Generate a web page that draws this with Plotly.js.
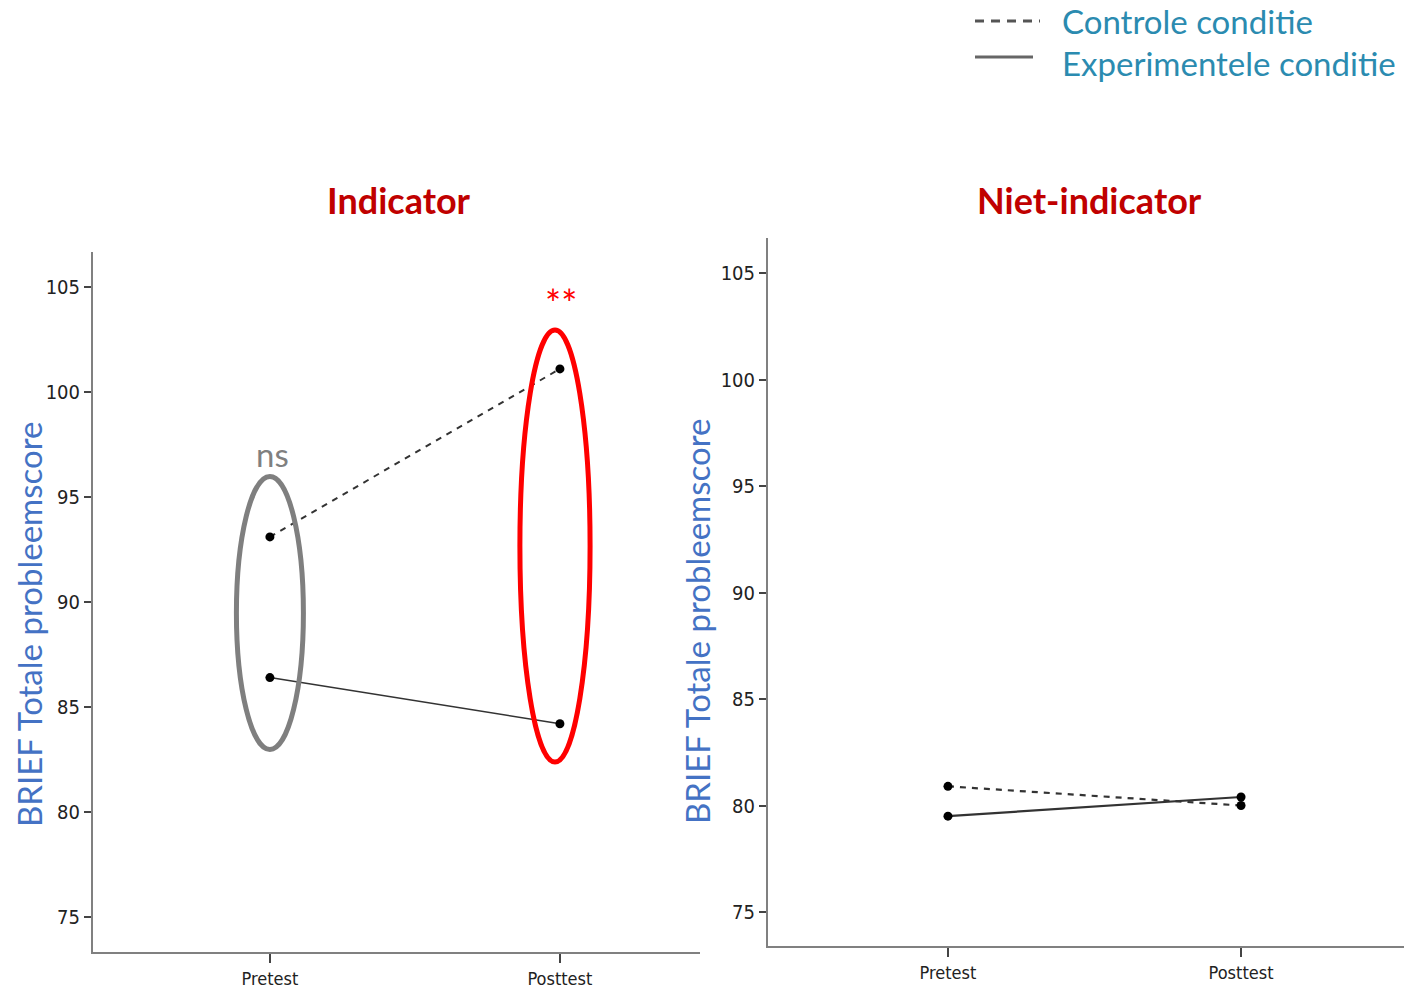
<!DOCTYPE html>
<html>
<head>
<meta charset="utf-8">
<script src="https://cdn.plot.ly/plotly-3.0.1.min.js"></script>
<style>html,body{margin:0;padding:0;background:#fff;}#chart{width:1404px;height:991px;}</style>
</head>
<body>
<div id="chart"></div>
<script>
// ---- data ----
const timepoints = ["Pretest", "Posttest"];
const indicatorControle = [93.1, 101.1];
const indicatorExperimenteel = [86.4, 84.2];
const nietIndicatorControle = [80.9, 80.0];
const nietIndicatorExperimenteel = [79.5, 80.4];
const yTicks = [75, 80, 85, 90, 95, 100, 105];
const panelTitles = ["Indicator", "Niet-indicator"];
const seriesNames = ["Controle conditie", "Experimentele conditie"];
const yTitle = "BRIEF Totale probleemscore";

const W = 1404, H = 991;
const px = v => v / W;
const py = v => (H - v) / H;

const fontFam = "'Liberation Sans Narrow', 'DejaVu Sans Condensed', 'Arial Narrow', sans-serif";
const yTickFont = {family: fontFam, size: 20, color: '#222'};
const xTickFont = {family: fontFam, size: 18, color: '#222'};

function trace(xa, ya, y, dashed, lw) {
  return {
    type: 'scatter', mode: 'lines+markers', x: timepoints, y: y,
    xaxis: xa, yaxis: ya, showlegend: false, hoverinfo: 'skip',
    line: {color: '#333', width: lw, dash: dashed ? '6px,6px' : 'solid'},
    marker: {color: '#000', size: 9}
  };
}

const data = [
  trace('x', 'y', indicatorControle, true, 2),
  trace('x', 'y', indicatorExperimenteel, false, 1.5),
  trace('x2', 'y2', nietIndicatorControle, true, 2.2),
  trace('x2', 'y2', nietIndicatorExperimenteel, false, 2.2)
];

const xCommon = {
  type: 'category', showgrid: false, zeroline: false,
  showline: true, linecolor: '#808080', linewidth: 2,
  ticks: 'outside', ticklen: 9, tickwidth: 2, tickcolor: '#444',
  tickfont: xTickFont, ticklabelstandoff: 0, fixedrange: true
};
const yCommon = {
  showgrid: false, zeroline: false, showline: true, linecolor: '#808080', linewidth: 2,
  ticks: 'outside', ticklen: 7, tickwidth: 2, tickcolor: '#444',
  tickvals: yTicks, ticktext: yTicks.map(String), tickfont: yTickFont, ticklabelstandoff: 0, fixedrange: true
};

const layout = {
  width: W, height: H,
  margin: {l: 0, r: 0, t: 0, b: 0},
  paper_bgcolor: '#fff', plot_bgcolor: '#fff',
  showlegend: false,
  xaxis: Object.assign({}, xCommon, {domain: [px(93), px(700)], range: [-0.61, 1.483], anchor: 'y'}),
  yaxis: Object.assign({}, yCommon, {domain: [py(952), py(252)], range: [73.333, 106.667], anchor: 'x'}),
  xaxis2: Object.assign({}, xCommon, {domain: [px(768), 1], range: [-0.614, 1.556], anchor: 'y2'}),
  yaxis2: Object.assign({}, yCommon, {domain: [py(946), py(238)], range: [73.404, 106.643], anchor: 'x2'}),
  shapes: [
    {type: 'circle', xref: 'x', yref: 'y', x0: -0.1155, x1: 0.1155, y0: 82.98, y1: 95.98,
     line: {color: '#7F7F7F', width: 5}},
    {type: 'circle', xref: 'x', yref: 'y', x0: 0.983 - 0.121, x1: 0.983 + 0.121, y0: 82.38, y1: 102.95,
     line: {color: '#FF0000', width: 5}},
    {type: 'line', xref: 'paper', yref: 'paper', x0: px(975), x1: px(1040), y0: py(21), y1: py(21),
     line: {color: '#555', width: 3, dash: '9px,7px'}},
    {type: 'line', xref: 'paper', yref: 'paper', x0: px(975), x1: px(1033), y0: py(57), y1: py(57),
     line: {color: '#666', width: 3}}
  ],
  annotations: [
    {xref: 'paper', yref: 'paper', x: px(399), y: py(200), text: '<b>' + panelTitles[0] + '</b>', showarrow: false,
     font: {family: 'Lato, sans-serif', size: 36, color: '#C00000'}, xanchor: 'center', yanchor: 'middle'},
    {xref: 'paper', yref: 'paper', x: px(1089), y: py(200), text: '<b>' + panelTitles[1] + '</b>', showarrow: false,
     font: {family: 'Lato, sans-serif', size: 36, color: '#C00000'}, xanchor: 'center', yanchor: 'middle'},
    {xref: 'paper', yref: 'paper', x: px(29), y: py(625), text: yTitle, textangle: -90, showarrow: false,
     font: {family: 'Lato, sans-serif', size: 33, color: '#4472C4'}, xanchor: 'center', yanchor: 'middle'},
    {xref: 'paper', yref: 'paper', x: px(697), y: py(622), text: yTitle, textangle: -90, showarrow: false,
     font: {family: 'Lato, sans-serif', size: 33, color: '#4472C4'}, xanchor: 'center', yanchor: 'middle'},
    {xref: 'paper', yref: 'paper', x: px(272), y: py(454), text: 'ns', showarrow: false,
     font: {family: 'Lato, sans-serif', size: 33, color: '#808080'}, xanchor: 'center', yanchor: 'middle'},
    {xref: 'paper', yref: 'paper', x: px(561), y: py(303), text: '**', showarrow: false,
     font: {family: 'Lato, sans-serif', size: 38, color: '#FF0000'}, xanchor: 'center', yanchor: 'middle'},
    {xref: 'paper', yref: 'paper', x: px(1060), y: py(21), text: seriesNames[0], showarrow: false,
     font: {family: 'Lato, sans-serif', size: 33, color: '#2B8BB0'}, xanchor: 'left', yanchor: 'middle'},
    {xref: 'paper', yref: 'paper', x: px(1060), y: py(63), text: seriesNames[1], showarrow: false,
     font: {family: 'Lato, sans-serif', size: 33, color: '#2B8BB0'}, xanchor: 'left', yanchor: 'middle'}
  ]
};

Plotly.newPlot('chart', data, layout, {displayModeBar: false, staticPlot: true});
</script>
</body>
</html>
